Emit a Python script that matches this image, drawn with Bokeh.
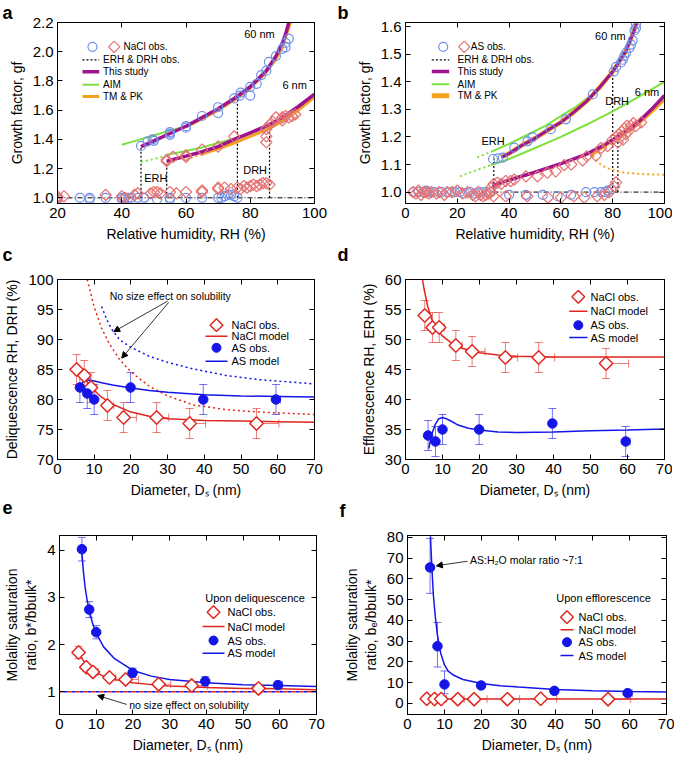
from bokeh.plotting import figure
from bokeh.models import (Range1d, FixedTicker, LinearAxis, Label, Whisker, TeeHead, Title,
                          ColumnDataSource, Arrow, NormalHead, CustomJSTickFormatter,
                          NumeralTickFormatter)
from bokeh.layouts import column, row
from bokeh.embed import file_html
from bokeh.resources import INLINE

# ---------------- data: panel a (NaCl growth factors) ----------------
a_blue_low_x = [20, 20, 27, 30, 30, 35, 40, 40, 41, 42, 43, 45, 47, 51, 55, 55, 60, 65, 70, 71, 72, 73, 74, 75, 76]
a_blue_low_y = [1.00, 0.99, 1.00, 1.00, 0.99, 1.00, 1.00, 0.99, 1.00, 1.00, 1.00, 1.00, 1.00, 0.99, 0.99, 1.00,
                1.00, 1.00, 1.00, 1.00, 1.01, 1.02, 1.02, 1.01, 1.00]
a_blue_up_x = [46, 48, 49.6, 50, 55, 55, 55, 60, 60, 65, 70, 70, 75, 76.8, 77, 80, 80, 82, 83.4, 85, 85.8, 88, 90, 91, 91, 92]
a_blue_up_y = [1.355, 1.385, 1.40, 1.39, 1.43, 1.44, 1.45, 1.48, 1.49, 1.56, 1.58, 1.62, 1.68, 1.70, 1.72, 1.70,
               1.76, 1.78, 1.84, 1.87, 1.93, 1.97, 2.02, 2.03, 2.06, 2.09]
a_red_low_x = [20, 20, 22, 35, 40, 41, 44, 45, 49, 50, 51, 52, 55, 57, 60, 65, 65, 70, 70, 72, 74, 76, 77, 78,
               79, 80, 81, 82, 83, 84, 85, 86]
a_red_low_y = [1.00, 1.01, 1.01, 1.02, 1.01, 1.00, 1.02, 1.03, 1.03, 1.04, 1.04, 1.03, 1.04, 1.03, 1.04, 1.04,
               1.05, 1.06, 1.07, 1.07, 1.06, 1.07, 1.06, 1.08, 1.07, 1.08, 1.09, 1.08, 1.09, 1.10, 1.10, 1.09]
a_red_up_x = [54, 54, 56, 60, 60, 65, 70, 75, 85, 85, 85, 86, 87, 88, 90, 90, 91, 92, 93, 94]
a_red_up_y = [1.26, 1.25, 1.28, 1.29, 1.28, 1.33, 1.35, 1.42, 1.38, 1.42, 1.47, 1.50, 1.52, 1.55, 1.53, 1.55,
              1.56, 1.55, 1.56, 1.57]
a_study60_x = [46, 50, 55, 60, 65, 70, 75, 80, 85, 88, 90, 91, 92]
a_study60_y = [1.35, 1.39, 1.44, 1.49, 1.55, 1.61, 1.68, 1.76, 1.87, 1.97, 2.06, 2.12, 2.2]
a_aim60_x = [40, 45, 50, 55, 60]
a_aim60_y = [1.363, 1.395, 1.428, 1.46, 1.49]
a_tm60_x = [60, 65, 70, 75, 80, 85, 88, 90, 92.5]
a_tm60_y = [1.485, 1.54, 1.60, 1.67, 1.75, 1.86, 1.95, 2.03, 2.2]
a_study6_x = [54, 60, 65, 70, 75, 80, 85, 90, 95, 100]
a_study6_y = [1.25, 1.285, 1.315, 1.35, 1.40, 1.445, 1.49, 1.55, 1.625, 1.71]
a_aim6_x = [54, 60, 65, 70, 75]
a_aim6_y = [1.295, 1.32, 1.345, 1.375, 1.405]
a_aim6_dot_x = [46, 50, 54]
a_aim6_dot_y = [1.245, 1.265, 1.29]
a_tm6_x = [65, 70, 75, 80, 85, 90, 95, 100]
a_tm6_y = [1.30, 1.335, 1.375, 1.42, 1.465, 1.525, 1.60, 1.69]
a_tm6_dot_x = [60, 62.5, 65]
a_tm6_dot_y = [1.26, 1.28, 1.30]
a_trans_x = [46, 54, 76, 86]
a_trans_top = [1.35, 1.25, 1.69, 1.50]
a_base_x = [20, 100]

# ---------------- data: panel b (AS growth factors) ----------------
b_blue_low_x = [3, 5, 7, 8, 9, 11, 14, 17, 19, 21, 23, 25, 27, 29, 31, 33, 40, 46.5, 53, 58.7, 63.9, 69.7,
                73, 75.5, 77, 78, 79.4]
b_blue_low_y = [1.0, 1.0, 1.0, 1.005, 1.0, 1.0, 1.0, 1.0, 1.0, 1.0, 0.995, 1.0, 0.995, 1.0, 1.0, 1.0, 0.99,
                0.99, 0.99, 0.985, 0.99, 1.0, 1.0, 1.0, 1.0, 1.005, 1.01]
b_blue_up_x = [33.8, 35.7, 37.6, 42, 47.1, 49, 56.1, 61.9, 72.3, 80.4, 81.3, 83.2, 83.9, 84.5, 85.2, 86.5,
               87.1, 87.7, 88.4, 89, 89]
b_blue_up_y = [1.12, 1.122, 1.125, 1.161, 1.184, 1.199, 1.228, 1.264, 1.354, 1.437, 1.454, 1.47, 1.48, 1.494,
               1.506, 1.523, 1.535, 1.55, 1.586, 1.595, 1.61]
b_red_low_x = [3, 4, 5, 6, 7, 8, 9, 10, 12, 13, 15, 16, 18, 20, 22, 24, 26, 27, 28, 29, 30, 31, 32, 33, 34,
               38.7, 47, 55, 60, 65, 69, 74, 76.8, 78.7, 80.6, 81.3]
b_red_low_y = [1.0, 0.995, 1.005, 0.99, 1.0, 1.0, 0.995, 1.0, 0.995, 1.0, 0.99, 1.0, 1.0, 1.005, 0.995, 1.0,
               0.99, 0.985, 1.0, 0.99, 0.985, 0.99, 0.995, 1.0, 0.985, 0.985, 0.985, 0.98, 0.98, 0.985,
               0.98, 0.985, 0.99, 1.0, 1.02, 1.035]
b_red_up_x = [33, 34, 35.5, 37, 38.7, 40.6, 42, 46.5, 51, 54.8, 58, 61.3, 64, 68.4, 70, 73.5, 75.5, 78, 80,
              81.3, 82, 82.5, 83, 83.5, 84, 84.5, 85, 85.5, 86, 87, 88, 89, 91]
b_red_up_y = [1.015, 1.029, 1.034, 1.03, 1.04, 1.04, 1.045, 1.057, 1.057, 1.07, 1.075, 1.098, 1.10, 1.115,
              1.13, 1.132, 1.16, 1.167, 1.19, 1.20, 1.18, 1.21, 1.20, 1.22, 1.19, 1.23, 1.21, 1.24, 1.22,
              1.24, 1.25, 1.24, 1.253]
b_study60_x = [37, 40, 45, 50, 55, 60, 65, 70, 75, 80, 85, 88, 89.5]
b_study60_y = [1.126, 1.14, 1.17, 1.195, 1.225, 1.253, 1.29, 1.33, 1.38, 1.437, 1.51, 1.58, 1.62]
b_aim60_x = [33, 40, 47, 54, 60, 66, 72]
b_aim60_y = [1.146, 1.175, 1.207, 1.24, 1.276, 1.31, 1.355]
b_aim60_dot_x = [27.7, 33]
b_aim60_dot_y = [1.126, 1.146]
b_aim6_x = [33, 40, 50, 60, 70, 80, 90, 100]
b_aim6_y = [1.098, 1.12, 1.16, 1.20, 1.245, 1.293, 1.345, 1.40]
b_aim6_dot_x = [21, 27, 33]
b_aim6_dot_y = [1.057, 1.078, 1.098]
b_study6_x = [33.5, 40, 50, 60, 70, 75, 80, 85, 90, 95, 100]
b_study6_y = [1.023, 1.044, 1.072, 1.103, 1.138, 1.162, 1.19, 1.22, 1.255, 1.30, 1.35]
b_tm6_x = [71.6, 75, 80, 85, 90, 95, 100]
b_tm6_y = [1.132, 1.155, 1.185, 1.213, 1.247, 1.29, 1.335]
b_tm6_dot_x = [72.3, 74.2, 76, 78.1, 82, 85.8, 92, 100]
b_tm6_dot_y = [1.132, 1.11, 1.096, 1.086, 1.075, 1.069, 1.065, 1.063]
b_trans_x = [34.1, 80.0, 82.0]
b_trans_top = [1.124, 1.437, 1.19]
b_base_x = [34, 100]

# ---------------- data: panels c-f (size dependence) ----------------
nacl_ds = [5.2, 7.3, 9.1, 13.6, 18.0, 27.0, 36.0, 54.2]
nacl_ds_hi = [5.2, 7.3, 10.5, 15.3, 21.5, 30.3, 40.3, 60.3]
as_ds = [6.1, 8.1, 10.0, 19.9, 39.7, 59.5]
as_ds_lo = [6.1, 8.1, 10.0, 19.9, 39.2, 58.3]
as_ds_hi = [6.1, 8.1, 10.0, 19.9, 40.2, 60.7]

c_nacl_drh = [85, 84, 82, 79, 77, 77, 76, 76]
c_nacl_err = [2.5, 2.5, 2.5, 2.5, 2.5, 2.5, 2.5, 2.5]
c_as_drh = [82, 81, 80, 82, 80, 80]
c_as_err = [2.5, 2.5, 2.5, 2.5, 2.5, 2.5]
c_nacl_model_x = [7.5, 8, 9, 10, 12, 15, 20, 25, 30, 40, 50, 60, 70]
c_nacl_model_y = [83.6, 83.0, 82.2, 81.5, 80.4, 79.2, 77.9, 77.2, 76.8, 76.5, 76.4, 76.3, 76.2]
c_as_model_x = [6.2, 7, 8, 10, 12, 15, 20, 25, 30, 40, 50, 60, 70]
c_as_model_y = [82, 83, 83.3, 83.1, 82.8, 82.4, 81.9, 81.5, 81.2, 80.8, 80.6, 80.5, 80.4]
c_nacl_bulk_x = [8.1, 9, 10, 12, 14, 17, 20, 25, 30, 37, 46, 55, 70]
c_nacl_bulk_y = [100, 97.8, 95.4, 91.9, 89.4, 86.6, 84.6, 82.2, 80.6, 79.1, 78.3, 77.9, 77.5]
c_as_bulk_x = [12, 13.5, 15, 17, 20, 25, 30, 37, 46, 55, 70]
c_as_bulk_y = [95.5, 93.2, 91.5, 89.9, 88.7, 87.2, 86.2, 85.1, 84.0, 83.3, 82.6]

d_nacl_erh = [54, 52, 52, 49, 48, 47, 47, 46]
d_nacl_err = [2.5, 2.5, 2.5, 2.5, 2.5, 2.5, 2.5, 2.5]
d_as_erh = [34, 33, 35, 35, 36, 33]
d_as_err = [2.5, 2.5, 2.5, 2.5, 2.5, 2.5]
d_nacl_model_x = [4.6, 5, 6, 7, 8, 9, 10, 12, 15, 20, 25, 30, 40, 50, 70]
d_nacl_model_y = [60, 58.5, 55.5, 53.5, 52.2, 51.3, 50.6, 49.6, 48.6, 47.8, 47.4, 47.2, 47.1, 47.1, 47.1]
d_as_model_x = [6.3, 7, 8, 9, 10, 11, 12, 14, 17, 20, 25, 30, 40, 50, 60, 70]
d_as_model_y = [31.8, 34, 35.8, 36.8, 37, 36.8, 36.5, 35.8, 35.2, 34.9, 34.6, 34.5, 34.6, 34.8, 34.9, 35.1]

e_nacl = [1.83, 1.52, 1.42, 1.30, 1.26, 1.16, 1.13, 1.07]
e_nacl_err = [0.13, 0.08, 0.07, 0.06, 0.08, 0.06, 0.05, 0.06]
e_as = [4.02, 2.74, 2.26, 1.40, 1.22, 1.14]
e_as_err = [0.25, 0.17, 0.14, 0.10, 0.10, 0.08]
e_nacl_model_x = [5.2, 6, 7, 8, 9, 10, 12, 15, 20, 25, 30, 40, 50, 60, 70]
e_nacl_model_y = [1.90, 1.72, 1.60, 1.52, 1.45, 1.40, 1.33, 1.26, 1.19, 1.15, 1.12, 1.09, 1.07, 1.06, 1.04]
e_as_model_x = [6.1, 6.5, 7, 7.5, 8, 9, 10, 12, 15, 20, 25, 30, 40, 50, 60, 70]
e_as_model_y = [3.95, 3.55, 3.2, 2.95, 2.75, 2.45, 2.24, 1.95, 1.70, 1.45, 1.33, 1.26, 1.19, 1.15, 1.13, 1.11]
e_bulk_x = [0, 70]
e_bulk_y = [1.0, 1.0]

f_nacl = [2.2, 2.1, 2.1, 2.0, 2.0, 2.0, 2.2, 2.0]
f_as = [65.5, 27.5, 9.1, 8.6, 6.0, 4.9]
f_as_err_lo = [12.5, 10.0, 4.5, 1.5, 1.0, 1.0]
f_as_err_hi = [14.0, 11.5, 6.5, 1.5, 1.0, 1.0]
f_nacl_model_x = [5.2, 10, 20, 30, 40, 50, 60, 70]
f_nacl_model_y = [2.15, 2.12, 2.1, 2.1, 2.1, 2.1, 2.1, 2.1]
f_as_model_x = [6.2, 6.6, 7, 7.5, 8, 8.5, 9, 10, 11, 12.5, 15, 20, 25, 30, 40, 50, 60, 70]
f_as_model_y = [80.5, 65, 52, 42, 34, 28.5, 24, 18.5, 15.5, 13.5, 11.5, 9.5, 8.5, 7.8, 6.6, 6.0, 5.7, 5.5]

# ---------------- styles ----------------
FONT = "Liberation Sans"
BLUE_L = "#7090e8"
RED_L = "#e57373"
PURPLE = "#9e138e"
GREEN = "#7ee03f"
ORANGE = "#f4a31f"
RED = "#e0261f"
BLUE = "#1515e8"
DIAM = 0.785398


def style_axis(ax):
    ax.major_tick_in = 5
    ax.major_tick_out = 0
    ax.minor_tick_in = 0
    ax.minor_tick_out = 0
    ax.axis_line_color = "black"
    ax.major_tick_line_color = "black"
    ax.major_label_text_font = FONT
    ax.major_label_text_font_size = "15px"
    ax.major_label_text_color = "black"
    ax.axis_label_text_font = FONT
    ax.axis_label_text_font_size = "14px"
    ax.axis_label_text_font_style = "normal"
    ax.axis_label_text_color = "black"
    ax.major_label_standoff = 4
    ax.axis_label_standoff = 5


def make_fig(xr, yr, xt, yt, xlab, ylab, fw, fh, bl, br, bt, bb):
    p = figure(frame_width=fw, frame_height=fh, x_range=Range1d(*xr), y_range=Range1d(*yr),
               output_backend="svg", toolbar_location=None, title=None,
               min_border_left=bl, min_border_right=br, min_border_top=bt, min_border_bottom=bb)
    p.xgrid.visible = False
    p.ygrid.visible = False
    p.outline_line_color = "black"
    p.outline_line_width = 1
    p.background_fill_color = "white"
    p.border_fill_color = "white"
    p.xaxis[0].ticker = FixedTicker(ticks=xt, minor_ticks=[])
    p.yaxis[0].ticker = FixedTicker(ticks=yt, minor_ticks=[])
    p.xaxis[0].axis_label = xlab
    p.yaxis[0].axis_label = ylab
    style_axis(p.xaxis[0])
    style_axis(p.yaxis[0])
    for loc, ticks in (("above", xt), ("right", yt)):
        ax = LinearAxis(ticker=FixedTicker(ticks=ticks, minor_ticks=[]),
                        formatter=CustomJSTickFormatter(code="return ''"))
        style_axis(ax)
        ax.major_label_standoff = 0
        ax.major_label_text_font_size = "1px"
        p.add_layout(ax, loc)
    return p


def add_letter(p, letter, loc, offset, standoff, valign="bottom"):
    p.add_layout(Title(text=letter, align="left", offset=offset, standoff=standoff, text_font=FONT,
                       text_font_size="18px", text_font_style="bold", text_color="black",
                       vertical_align=valign), loc)


def to_data(p, fx, fy):
    xr, yr = p.x_range, p.y_range
    x = xr.start + fx / p.frame_width * (xr.end - xr.start)
    y = yr.end - fy / p.frame_height * (yr.end - yr.start)
    return x, y


def key_marker(p, fx, fy, **kw):
    x, y = to_data(p, fx, fy)
    p.scatter([x], [y], **kw)


def key_line(p, fx0, fx1, fy, **kw):
    x0, y = to_data(p, fx0, fy)
    x1, _ = to_data(p, fx1, fy)
    p.line([x0, x1], [y, y], **kw)


def key_text(p, fx, fy, text, size="11px"):
    x, y = to_data(p, fx, fy)
    p.add_layout(Label(x=x, y=y, text=text, text_font=FONT, text_font_size=size,
                       text_baseline="middle", text_align="left", text_color="black"))


def yerr(p, x, y, lo, hi, color):
    src = ColumnDataSource(dict(x=x, lo=[v - e for v, e in zip(y, lo)], hi=[v + e for v, e in zip(y, hi)]))
    p.add_layout(Whisker(source=src, base="x", lower="lo", upper="hi", dimension="height",
                         line_color=color, line_alpha=0.6, line_width=1, level="underlay",
                         upper_head=TeeHead(size=8, line_color=color, line_alpha=0.6, line_width=1),
                         lower_head=TeeHead(size=8, line_color=color, line_alpha=0.6, line_width=1)))


def xerr(p, y, lo, hi, color):
    src = ColumnDataSource(dict(y=y, lo=lo, hi=hi))
    p.add_layout(Whisker(source=src, base="y", lower="lo", upper="hi", dimension="width",
                         line_color=color, line_alpha=0.6, line_width=1, level="underlay",
                         upper_head=TeeHead(size=8, line_color=color, line_alpha=0.6, line_width=1),
                         lower_head=None))


FH1, FH2, FH3 = 181, 180, 179
TOP2 = 10
BOT = 66

# ---------------- panel a ----------------
pa = make_fig((20, 100), (0.961, 2.2), [20, 40, 60, 80, 100], [1.0, 1.2, 1.4, 1.6, 1.8, 2.0, 2.2],
              "Relative humidity, RH (%)", "Growth factor, gf", 257, FH1, 57, 18, 0, BOT)
pa.yaxis[0].formatter = NumeralTickFormatter(format="0.0")
pa.line(a_base_x, [1.0, 1.0], line_color="black", line_width=1, line_dash="5 2 1 2")
pa.segment(x0=a_trans_x, y0=[1.0] * len(a_trans_x), x1=a_trans_x, y1=a_trans_top,
           line_color="black", line_width=1.2, line_dash="2 2")
pa.line(a_aim60_x, a_aim60_y, line_color=GREEN, line_width=2)
pa.line(a_aim6_x, a_aim6_y, line_color=GREEN, line_width=2)
pa.line(a_aim6_dot_x, a_aim6_dot_y, line_color=GREEN, line_width=2, line_dash="2 3")
pa.line(a_tm60_x, a_tm60_y, line_color=ORANGE, line_width=3)
pa.line(a_tm6_x, a_tm6_y, line_color=ORANGE, line_width=3)
pa.line(a_tm6_dot_x, a_tm6_dot_y, line_color=ORANGE, line_width=2, line_dash="2 3")
pa.line(a_study60_x, a_study60_y, line_color=PURPLE, line_width=3.5)
pa.line(a_study6_x, a_study6_y, line_color=PURPLE, line_width=3.5)
pa.scatter(a_blue_low_x, a_blue_low_y, marker="circle", size=9, fill_color=None, line_color=BLUE_L, line_width=1.2)
pa.scatter(a_blue_up_x, a_blue_up_y, marker="circle", size=9, fill_color=None, line_color=BLUE_L, line_width=1.2)
pa.scatter(a_red_low_x, a_red_low_y, marker="square", angle=DIAM, size=8, fill_color=None, line_color=RED_L, line_width=1.2)
pa.scatter(a_red_up_x, a_red_up_y, marker="square", angle=DIAM, size=8, fill_color=None, line_color=RED_L, line_width=1.2)
key_marker(pa, 35, 24.3, marker="circle", size=9, fill_color=None, line_color=BLUE_L, line_width=1.2)
key_marker(pa, 56.7, 24.3, marker="square", angle=DIAM, size=8, fill_color=None, line_color=RED_L, line_width=1.2)
key_text(pa, 66, 24.3, "NaCl obs.", "10px")
key_line(pa, 25, 41.7, 37.3, line_color="black", line_width=1.2, line_dash="2 2")
key_line(pa, 25, 41.7, 49.3, line_color=PURPLE, line_width=3.5)
key_line(pa, 25, 41.7, 62.3, line_color=GREEN, line_width=2)
key_line(pa, 25, 41.7, 74, line_color=ORANGE, line_width=3)
for fy, t in ((37.3, "ERH & DRH obs."), (49.3, "This study"), (62.3, "AIM"), (74, "TM & PK")):
    key_text(pa, 45.5, fy, t, "10px")
for x, y, t in ((78.1, 2.124, "60 nm"), (90, 1.77, "6 nm"), (47, 1.135, "ERH"), (77.8, 1.189, "DRH")):
    pa.add_layout(Label(x=x, y=y, text=t, text_font=FONT, text_font_size="11px", text_baseline="middle",
                        text_align="left", text_color="black"))
add_letter(pa, "a", "above", -55, 0)
add_letter(pa, "c", "below", -55, 1, "top")

# ---------------- panel b ----------------
pb = make_fig((0, 100), (0.9586, 1.615), [0, 20, 40, 60, 80, 100], [1.0, 1.1, 1.2, 1.3, 1.4, 1.5, 1.6],
              "Relative humidity, RH (%)", "Growth factor, gf", 259, FH1, 73, 8, 0, BOT)
pb.yaxis[0].formatter = NumeralTickFormatter(format="0.0")
pb.line(b_base_x, [1.0, 1.0], line_color="black", line_width=1, line_dash="5 2 1 2")
pb.segment(x0=b_trans_x, y0=[1.0] * len(b_trans_x), x1=b_trans_x, y1=b_trans_top,
           line_color="black", line_width=1.2, line_dash="2 2")
pb.line(b_aim60_x, b_aim60_y, line_color=GREEN, line_width=2)
pb.line(b_aim60_dot_x, b_aim60_dot_y, line_color=GREEN, line_width=2, line_dash="2 3")
pb.line(b_aim6_x, b_aim6_y, line_color=GREEN, line_width=2)
pb.line(b_aim6_dot_x, b_aim6_dot_y, line_color=GREEN, line_width=2, line_dash="2 3")
pb.line(b_tm6_x, b_tm6_y, line_color=ORANGE, line_width=3)
pb.line(b_tm6_dot_x, b_tm6_dot_y, line_color=ORANGE, line_width=2, line_dash="2 3")
pb.line(b_study60_x, b_study60_y, line_color=ORANGE, line_width=4.5)
pb.line(b_study60_x, b_study60_y, line_color=PURPLE, line_width=3)
pb.line(b_study6_x, b_study6_y, line_color=PURPLE, line_width=3.5)
pb.scatter(b_blue_low_x, b_blue_low_y, marker="circle", size=9, fill_color=None, line_color=BLUE_L, line_width=1.2)
pb.scatter(b_blue_up_x, b_blue_up_y, marker="circle", size=9, fill_color=None, line_color=BLUE_L, line_width=1.2)
pb.scatter(b_red_low_x, b_red_low_y, marker="square", angle=DIAM, size=8, fill_color=None, line_color=RED_L, line_width=1.2)
pb.scatter(b_red_up_x, b_red_up_y, marker="square", angle=DIAM, size=8, fill_color=None, line_color=RED_L, line_width=1.2)
key_marker(pb, 37.7, 24.3, marker="circle", size=9, fill_color=None, line_color=BLUE_L, line_width=1.2)
key_marker(pb, 58.7, 24.3, marker="square", angle=DIAM, size=8, fill_color=None, line_color=RED_L, line_width=1.2)
key_text(pb, 65.3, 24.3, "AS obs.", "10px")
key_line(pb, 26.3, 43.7, 37.3, line_color="black", line_width=1.2, line_dash="2 2")
key_line(pb, 26.3, 43.7, 49, line_color=PURPLE, line_width=3.5)
key_line(pb, 26.3, 43.7, 61.7, line_color=GREEN, line_width=2)
key_line(pb, 26.3, 43.7, 73.3, line_color=ORANGE, line_width=5)
for fy, t in ((37.3, "ERH & DRH obs."), (49, "This study"), (61.7, "AIM"), (73.3, "TM & PK")):
    key_text(pb, 52, fy, t, "10px")
for x, y, t in ((73.2, 1.565, "60 nm"), (88.5, 1.364, "6 nm"), (77.1, 1.331, "DRH"), (29.3, 1.186, "ERH")):
    pb.add_layout(Label(x=x, y=y, text=t, text_font=FONT, text_font_size="11px", text_baseline="middle",
                        text_align="left", text_color="black"))
add_letter(pb, "b", "above", -68, 0)
add_letter(pb, "d", "below", -68, 1, "top")

# ---------------- panel c ----------------
pc = make_fig((0, 70), (70, 100), [0, 10, 20, 30, 40, 50, 60, 70], [70, 75, 80, 85, 90, 95, 100],
              "Diameter, D\u209b (nm)", "Deliquescence RH, DRH (%)", 257, FH2, 57, 18, TOP2, BOT)
pc.line(c_nacl_bulk_x, c_nacl_bulk_y, line_color=RED, line_width=1.5, line_dash="2 3")
pc.line(c_as_bulk_x, c_as_bulk_y, line_color=BLUE, line_width=1.5, line_dash="2 3")
yerr(pc, nacl_ds, c_nacl_drh, c_nacl_err, c_nacl_err, RED)
xerr(pc, c_nacl_drh, nacl_ds, nacl_ds_hi, RED)
yerr(pc, as_ds, c_as_drh, c_as_err, c_as_err, BLUE)
xerr(pc, c_as_drh, as_ds_lo, as_ds_hi, BLUE)
pc.line(c_nacl_model_x, c_nacl_model_y, line_color=RED, line_width=1.5)
pc.line(c_as_model_x, c_as_model_y, line_color=BLUE, line_width=1.5)
pc.scatter(nacl_ds, c_nacl_drh, marker="square", angle=DIAM, size=9.5, fill_color="white", line_color=RED, line_width=1.5)
pc.scatter(as_ds, c_as_drh, marker="circle", size=9.5, fill_color=BLUE, line_color=BLUE)
key_marker(pc, 159, 45.7, marker="square", angle=DIAM, size=9, fill_color="white", line_color=RED, line_width=1.5)
key_line(pc, 148, 170, 56.7, line_color=RED, line_width=1.5)
key_marker(pc, 159, 68.3, marker="circle", size=9, fill_color=BLUE, line_color=BLUE)
key_line(pc, 148, 170, 81.7, line_color=BLUE, line_width=1.5)
for fy, t in ((45.7, "NaCl obs."), (56.7, "NaCl model"), (68.3, "AS obs."), (81.7, "AS model")):
    key_text(pc, 174, fy, t)
pc.add_layout(Label(x=14.2, y=97.2, text="No size effect on solubility", text_font=FONT,
                    text_font_size="10.5px", text_baseline="middle", text_color="black"))
pc.add_layout(Arrow(end=NormalHead(size=6, fill_color="black", line_color="black"), x_start=30, y_start=96.4,
                    x_end=15.3, y_end=91.3, line_width=0.8, line_color="black"))
pc.add_layout(Arrow(end=NormalHead(size=6, fill_color="black", line_color="black"), x_start=30.3, y_start=96.2,
                    x_end=17.5, y_end=86.9, line_width=0.8, line_color="black"))
add_letter(pc, "e", "below", -55, 1, "top")

# ---------------- panel d ----------------
pd = make_fig((0, 70), (30, 60), [0, 10, 20, 30, 40, 50, 60, 70], [30, 35, 40, 45, 50, 55, 60],
              "Diameter, D\u209b (nm)", "Efflorescence RH, ERH (%)", 259, FH2, 73, 8, TOP2, BOT)
yerr(pd, nacl_ds, d_nacl_erh, d_nacl_err, d_nacl_err, RED)
xerr(pd, d_nacl_erh, nacl_ds, nacl_ds_hi, RED)
yerr(pd, as_ds, d_as_erh, d_as_err, d_as_err, BLUE)
xerr(pd, d_as_erh, as_ds_lo, as_ds_hi, BLUE)
pd.line(d_nacl_model_x, d_nacl_model_y, line_color=RED, line_width=1.5)
pd.line(d_as_model_x, d_as_model_y, line_color=BLUE, line_width=1.5)
pd.scatter(nacl_ds, d_nacl_erh, marker="square", angle=DIAM, size=9.5, fill_color="white", line_color=RED, line_width=1.5)
pd.scatter(as_ds, d_as_erh, marker="circle", size=9.5, fill_color=BLUE, line_color=BLUE)
key_marker(pd, 172.8, 17.3, marker="square", angle=DIAM, size=9, fill_color="white", line_color=RED, line_width=1.5)
key_line(pd, 163.7, 182, 31.7, line_color=RED, line_width=1.5)
key_marker(pd, 172.8, 45.7, marker="circle", size=9, fill_color=BLUE, line_color=BLUE)
key_line(pd, 163.7, 182, 58, line_color=BLUE, line_width=1.5)
for fy, t in ((17.3, "NaCl obs."), (31.7, "NaCl model"), (45.7, "AS obs."), (58, "AS model")):
    key_text(pd, 185, fy, t)
add_letter(pd, "f", "below", -66, 1, "top")

# ---------------- panel e ----------------
pe = make_fig((0, 70), (0.517, 4.31), [0, 10, 20, 30, 40, 50, 60, 70], [1, 2, 3, 4],
              "Diameter, D\u209b (nm)", "Molality saturation\nratio, b*/bbulk*", 257, FH3, 57, 18, TOP2, 40)
pe.line(e_bulk_x, e_bulk_y, line_color=RED, line_width=1.5, line_dash="4 4")
pe.line(e_bulk_x, e_bulk_y, line_color=BLUE, line_width=1.5, line_dash="4 4", line_dash_offset=4)
yerr(pe, nacl_ds, e_nacl, e_nacl_err, e_nacl_err, RED)
xerr(pe, e_nacl, nacl_ds, nacl_ds_hi, RED)
yerr(pe, as_ds, e_as, e_as_err, e_as_err, BLUE)
xerr(pe, e_as, as_ds_lo, as_ds_hi, BLUE)
pe.line(e_nacl_model_x, e_nacl_model_y, line_color=RED, line_width=1.5)
pe.line(e_as_model_x, e_as_model_y, line_color=BLUE, line_width=1.5)
pe.scatter(nacl_ds, e_nacl, marker="square", angle=DIAM, size=9.5, fill_color="white", line_color=RED, line_width=1.5)
pe.scatter(as_ds, e_as, marker="circle", size=9.5, fill_color=BLUE, line_color=BLUE)
key_text(pe, 145.7, 62.7, "Upon deliquescence")
key_marker(pe, 154, 76.7, marker="square", angle=DIAM, size=9, fill_color="white", line_color=RED, line_width=1.5)
key_line(pe, 143, 165, 91, line_color=RED, line_width=1.5)
key_marker(pe, 154, 105, marker="circle", size=9, fill_color=BLUE, line_color=BLUE)
key_line(pe, 143, 165, 117.7, line_color=BLUE, line_width=1.5)
for fy, t in ((76.7, "NaCl obs."), (91, "NaCl model"), (105, "AS obs."), (117.7, "AS model")):
    key_text(pe, 168, fy, t)
pe.add_layout(Label(x=19, y=0.72, text="no size effect on solubility", text_font=FONT,
                    text_font_size="10.5px", text_baseline="middle", text_color="black"))
pe.add_layout(Arrow(end=NormalHead(size=6, fill_color="black", line_color="black"), x_start=18.3, y_start=0.73,
                    x_end=10.4, y_end=0.92, line_width=0.8, line_color="black"))

# ---------------- panel f ----------------
pf = make_fig((0, 70), (-5.4, 80.9), [0, 10, 20, 30, 40, 50, 60, 70], [0, 10, 20, 30, 40, 50, 60, 70, 80],
              "Diameter, D\u209b (nm)", "Molality saturation\nratio, b\u2091/bbulk*", 259, FH3, 73, 8, TOP2, 40)
xerr(pf, f_nacl, nacl_ds, nacl_ds_hi, RED)
yerr(pf, as_ds, f_as, f_as_err_lo, f_as_err_hi, BLUE)
xerr(pf, f_as, as_ds_lo, as_ds_hi, BLUE)
pf.line(f_nacl_model_x, f_nacl_model_y, line_color=RED, line_width=1.5)
pf.line(f_as_model_x, f_as_model_y, line_color=BLUE, line_width=1.5)
pf.scatter(nacl_ds, f_nacl, marker="square", angle=DIAM, size=9.5, fill_color="white", line_color=RED, line_width=1.5)
pf.scatter(as_ds, f_as, marker="circle", size=9.5, fill_color=BLUE, line_color=BLUE)
key_text(pf, 148.7, 62.3, "Upon efflorescence")
key_marker(pf, 159.5, 81.7, marker="square", angle=DIAM, size=9, fill_color="white", line_color=RED, line_width=1.5)
key_line(pf, 153, 166, 94.3, line_color=RED, line_width=1.5)
key_marker(pf, 159.5, 106.7, marker="circle", size=9, fill_color=BLUE, line_color=BLUE)
key_line(pf, 153, 166, 120, line_color=BLUE, line_width=1.5)
for fy, t in ((81.7, "NaCl obs."), (94.3, "NaCl model"), (106.7, "AS obs."), (120, "AS model")):
    key_text(pf, 171, fy, t)
pf.add_layout(Label(x=16.9, y=69, text="AS:H\u2082O molar ratio ~7:1", text_font=FONT,
                    text_font_size="10.5px", text_baseline="middle", text_color="black"))
pf.add_layout(Arrow(end=NormalHead(size=6, fill_color="black", line_color="black"), x_start=16.2, y_start=68.5,
                    x_end=7.8, y_end=66.3, line_width=0.8, line_color="black"))

layout = column(row(pa, pb), row(pc, pd), row(pe, pf))
open("out.html", "w").write(file_html(layout, INLINE))
